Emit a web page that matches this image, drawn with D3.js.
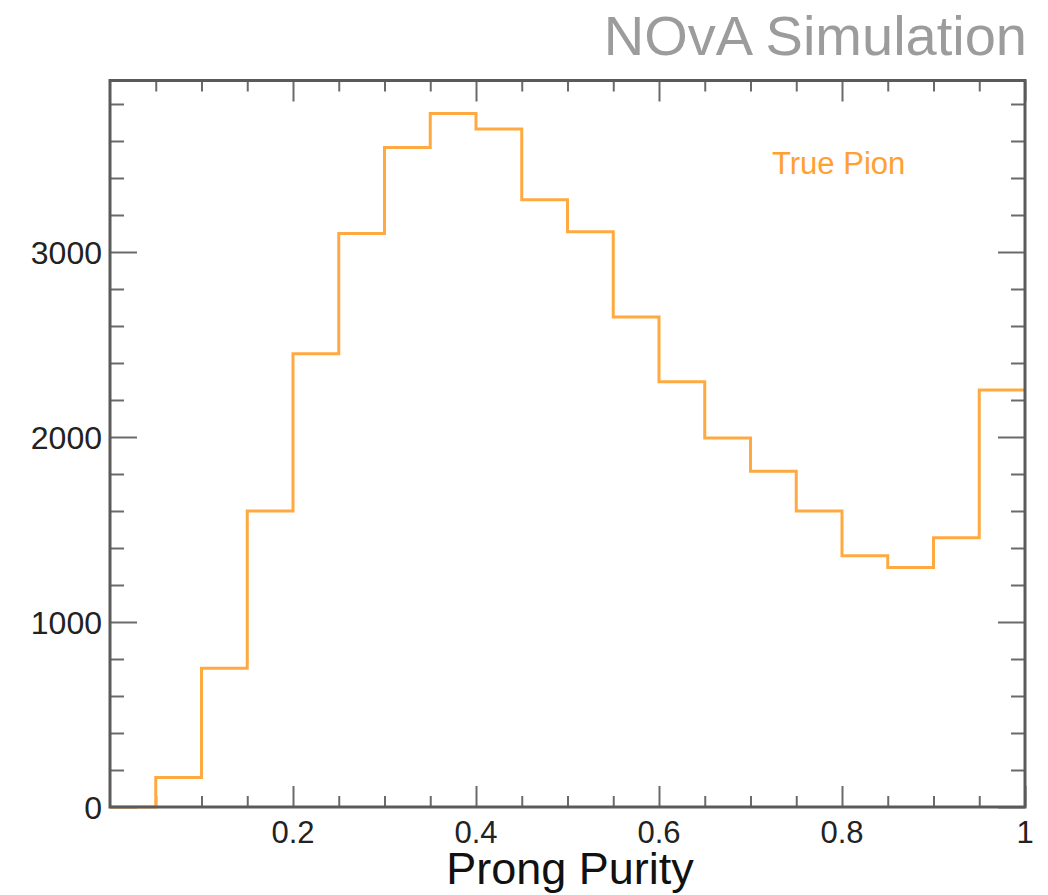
<!DOCTYPE html>
<html>
<head>
<meta charset="utf-8">
<script src="https://cdn.jsdelivr.net/npm/d3@7"></script>
<style>
  html, body { margin: 0; padding: 0; background: #ffffff; }
  svg { display: block; }
  text { font-family: "Liberation Sans", Arial, Helvetica, sans-serif; }
</style>
</head>
<body>
<svg id="chart" width="1048" height="895"></svg>
<script>
// Prong purity histogram: 20 bins of width 0.05 between 0 and 1
const binEdges = [0, 0.05, 0.1, 0.15, 0.2, 0.25, 0.3, 0.35, 0.4, 0.45,
                  0.5, 0.55, 0.6, 0.65, 0.7, 0.75, 0.8, 0.85, 0.9, 0.95, 1.0];
const truePionCounts = [0, 160, 750, 1600, 2450, 3100, 3565, 3748, 3665, 3283,
                        3110, 2648, 2299, 1994, 1815, 1600, 1358, 1294, 1455, 2254];
const xMajorTicks = [0.2, 0.4, 0.6, 0.8, 1];
const xTickLabels = ["0.2", "0.4", "0.6", "0.8", "1"];
const yMajorTicks = [0, 1000, 2000, 3000];
const yTickLabels = ["0", "1000", "2000", "3000"];
const yMax = 3927;

const svg = d3.select("#chart");
const plot = { left: 110, right: 1025, top: 80.5, bottom: 807 };

const x = d3.scaleLinear().domain([0, 1]).range([plot.left, plot.right]);
const y = d3.scaleLinear().domain([0, yMax]).range([plot.bottom, plot.top]);

const axisColor = "#6a6a6a";
const textColor = "#222222";

// Minor tick positions
const xMinor = d3.range(0, 1.0001, 0.05).filter(v => Math.abs(v * 5 - Math.round(v * 5)) > 1e-6);
const yMinor = d3.range(0, yMax, 200).filter(v => v % 1000 !== 0);

function tickGroup(axisGen, transform) {
  const g = svg.append("g").attr("transform", transform).call(axisGen);
  g.select(".domain").remove();
  g.selectAll("line").attr("stroke", axisColor).attr("stroke-width", 2);
  g.selectAll("text").remove();
  return g;
}

// Bottom axis (ticks point up into the frame)
tickGroup(d3.axisTop(x).tickValues(xMajorTicks).tickSize(21), `translate(0,${plot.bottom})`);
tickGroup(d3.axisTop(x).tickValues(xMinor).tickSize(11), `translate(0,${plot.bottom})`);
// Top axis (ticks point down)
tickGroup(d3.axisBottom(x).tickValues(xMajorTicks).tickSize(21), `translate(0,${plot.top})`);
tickGroup(d3.axisBottom(x).tickValues(xMinor).tickSize(11), `translate(0,${plot.top})`);
// Left axis (ticks point right)
tickGroup(d3.axisRight(y).tickValues(yMajorTicks).tickSize(27), `translate(${plot.left},0)`);
tickGroup(d3.axisRight(y).tickValues(yMinor).tickSize(14), `translate(${plot.left},0)`);
// Right axis (ticks point left)
tickGroup(d3.axisLeft(y).tickValues(yMajorTicks).tickSize(27), `translate(${plot.right},0)`);
tickGroup(d3.axisLeft(y).tickValues(yMinor).tickSize(14), `translate(${plot.right},0)`);

// Histogram outline as a step line
const stepPoints = binEdges.map((e, i) => [e, i < truePionCounts.length ? truePionCounts[i] : truePionCounts[truePionCounts.length - 1]]);
const stepLine = d3.line()
  .x(d => x(d[0]))
  .y(d => y(d[1]))
  .curve(d3.curveStepAfter);

svg.append("path")
  .datum(stepPoints)
  .attr("d", stepLine)
  .attr("fill", "none")
  .attr("stroke", "#ffaa40")
  .attr("stroke-width", 3)
  .attr("stroke-linejoin", "miter");

// Frame
svg.append("rect")
  .attr("x", plot.left).attr("y", plot.top)
  .attr("width", plot.right - plot.left)
  .attr("height", plot.bottom - plot.top)
  .attr("fill", "none")
  .attr("stroke", "#5a5a5a")
  .attr("stroke-width", 3);

// Tick labels
svg.append("g").selectAll("text")
  .data(xMajorTicks)
  .join("text")
  .attr("x", d => x(d))
  .attr("y", 843)
  .attr("text-anchor", "middle")
  .attr("font-size", 31)
  .attr("fill", textColor)
  .text((d, i) => xTickLabels[i]);

svg.append("g").selectAll("text")
  .data(yMajorTicks)
  .join("text")
  .attr("x", plot.left - 8)
  .attr("y", d => y(d))
  .attr("dy", "0.36em")
  .attr("text-anchor", "end")
  .attr("font-size", 32)
  .attr("fill", textColor)
  .text((d, i) => yTickLabels[i]);

// Axis title
svg.append("text")
  .attr("x", (443 + 697) / 2)
  .attr("y", 884)
  .attr("text-anchor", "middle")
  .attr("font-size", 45)
  .attr("fill", "#111111")
  .text("Prong Purity");

// Legend label
svg.append("text")
  .attr("x", 772)
  .attr("y", 174)
  .attr("font-size", 31)
  .attr("fill", "#ffa030")
  .text("True Pion");

// Header
svg.append("text")
  .attr("x", 1027)
  .attr("y", 55)
  .attr("text-anchor", "end")
  .attr("font-size", 56)
  .attr("fill", "#9c9c9c")
  .text("NOvA Simulation");
</script>
</body>
</html>
